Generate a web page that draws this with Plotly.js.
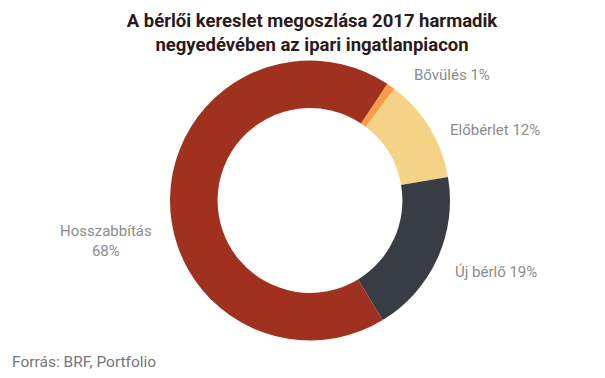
<!DOCTYPE html>
<html>
<head>
<meta charset="utf-8">
<script src="https://cdn.plot.ly/plotly-3.0.1.min.js"></script>
<style>html,body{margin:0;padding:0;background:#fff;}#chart{width:605px;height:378px;}</style>
</head>
<body>
<div id="chart"></div>
<script>
const categories = ["Bővülés", "Előbérlet", "Új bérlő", "Hosszabbítás"];
const values = [1, 12, 19, 68];
const colors = ["#F89C45", "#F4D386", "#383C44", "#A0311F"];

const W = 605, H = 378;
const px = x => x / W;
const py = y => 1 - y / H;

// label anchors (pixel positions)
const labelPos = [
  {x: 412, y: 75, anchor: "left"},
  {x: 448, y: 130, anchor: "left"},
  {x: 453, y: 272, anchor: "left"},
  {x: 106, y: 241, anchor: "center"}
];

const annotations = categories.map((c, i) => ({
  xref: "paper", yref: "paper",
  x: px(labelPos[i].x), y: py(labelPos[i].y),
  xanchor: labelPos[i].anchor, yanchor: "middle",
  align: "center",
  showarrow: false,
  text: i === 3 ? c + "<br>" + values[i] + "%" : c + " " + values[i] + "%",
  font: {family: "Roboto, sans-serif", size: 15, color: "#8C8C8C"}
}));

annotations.push({
  xref: "paper", yref: "paper", x: px(10), y: py(362),
  xanchor: "left", yanchor: "middle", showarrow: false,
  text: "Forrás: BRF, Portfolio",
  font: {family: "Roboto, sans-serif", size: 15.5, color: "#777777"}
});

const cx = 310, cy = 200.5, R = 140;

const data = [{
  type: "pie",
  labels: categories,
  values: values,
  marker: {colors: colors, line: {width: 0}},
  hole: 0.66,
  sort: false,
  direction: "clockwise",
  rotation: 33.5,
  textinfo: "none",
  hoverinfo: "label+percent",
  domain: {x: [px(cx - R), px(cx + R)], y: [py(cy + R), py(cy - R)]},
  showlegend: false
}];

const layout = {
  width: W, height: H,
  margin: {l: 0, r: 0, t: 0, b: 0},
  paper_bgcolor: "#ffffff",
  title: {
    text: "<b>A bérlői kereslet megoszlása 2017 harmadik<br>negyedévében az ipari ingatlanpiacon</b>",
    font: {family: "Roboto, sans-serif", size: 18.5, color: "#2a1a1a"},
    x: px(312), xanchor: "center", y: py(26.5), yanchor: "middle"
  },
  annotations: annotations,
  showlegend: false
};

Plotly.newPlot("chart", data, layout, {displayModeBar: false, staticPlot: true});
</script>
</body>
</html>
